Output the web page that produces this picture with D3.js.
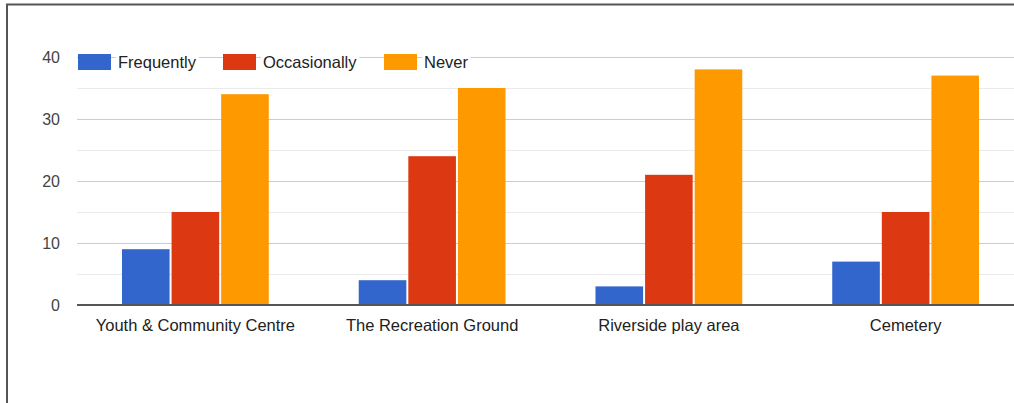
<!DOCTYPE html>
<html><head><meta charset="utf-8">
<script src="https://cdn.jsdelivr.net/npm/d3@7"></script>
<style>html,body{margin:0;padding:0;background:#fff;overflow:hidden}</style>
</head><body>
<svg id="c" width="1014" height="403"></svg>
<script>
const categories = ["Youth & Community Centre","The Recreation Ground","Riverside play area","Cemetery"];
const seriesNames = ["Frequently","Occasionally","Never"];
const frequently = [9,4,3,7];
const occasionally = [15,24,21,15];
const never = [34,35,38,37];
const colors = ["#3366cc","#dc3912","#ff9900"];
const yTicks = [0,10,20,30,40];

const svg = d3.select("#c");
const font = "Arial, 'Liberation Sans', sans-serif";
svg.append("rect").attr("width",1014).attr("height",403).attr("fill","#fff");
// frame
svg.append("rect").attr("x",7).attr("y",4.5).attr("width",1020).attr("height",420)
  .attr("fill","none").attr("stroke","#555").attr("stroke-width",2);

const pLeft=77, pRight=1024, pTop=57, pBottom=305;
const x = d3.scaleBand().domain(categories).range([pLeft,pRight]).paddingInner(0).paddingOuter(0);
const y = d3.scaleLinear().domain([0,40]).range([pBottom,pTop]);
const groupW = x.bandwidth()*0.62;
const x1 = d3.scaleBand().domain(seriesNames).range([0,groupW]).paddingInner(0.04);

// minor gridlines
const minor = d3.range(5,40,10);
svg.append("g").selectAll("line").data(minor).join("line")
  .attr("x1",pLeft).attr("x2",pRight).attr("y1",d=>Math.round(y(d))+0.5).attr("y2",d=>Math.round(y(d))+0.5)
  .attr("stroke","#ebebeb").attr("stroke-width",1);
// major gridlines via axis
const yAxis = svg.append("g").attr("transform",`translate(${pLeft},0)`)
  .call(d3.axisLeft(y).tickValues(yTicks).tickSize(-(pRight-pLeft)).tickPadding(17));
yAxis.select(".domain").remove();
yAxis.selectAll(".tick line").attr("stroke","#cccccc").attr("stroke-width",1);
yAxis.selectAll(".tick text").attr("font-family",font).attr("font-size",16).attr("fill","#444");

const data = categories.map((c,i)=>({c, vals:[frequently[i],occasionally[i],never[i]]}));
const g = svg.append("g");
data.forEach(d=>{
  const gx = x(d.c) + (x.bandwidth()-groupW)/2;
  g.selectAll(null).data(d.vals).join("rect")
    .attr("x",(v,j)=>gx + x1(seriesNames[j]))
    .attr("width",x1.bandwidth())
    .attr("y",v=>y(v))
    .attr("height",v=>pBottom-y(v))
    .attr("fill",(v,j)=>colors[j]);
});
// baseline
svg.append("line").attr("x1",pLeft).attr("x2",pRight).attr("y1",pBottom).attr("y2",pBottom)
  .attr("stroke","#555").attr("stroke-width",2);

// x axis labels
const xAxis = svg.append("g").attr("transform",`translate(0,${pBottom})`)
  .call(d3.axisBottom(x).tickSize(0).tickPadding(14));
xAxis.select(".domain").remove();
xAxis.selectAll(".tick text").attr("font-family",font).attr("font-size",16.5).attr("fill","#222");

// legend
const legX = [78,223,384];
const leg = svg.append("g");
seriesNames.forEach((s,i)=>{
  const t = leg.append("text").attr("x",legX[i]+40).attr("y",68).attr("font-family",font)
    .attr("font-size",16.5).attr("fill","#222").text(s);
  const bb = t.node().getBBox();
  leg.insert("rect","text").attr("x",bb.x-2).attr("y",bb.y).attr("width",bb.width+4).attr("height",bb.height).attr("fill","#fff");
  leg.append("rect").attr("x",legX[i]).attr("y",54).attr("width",33).attr("height",16).attr("fill",colors[i]);
});
</script>
</body></html>
